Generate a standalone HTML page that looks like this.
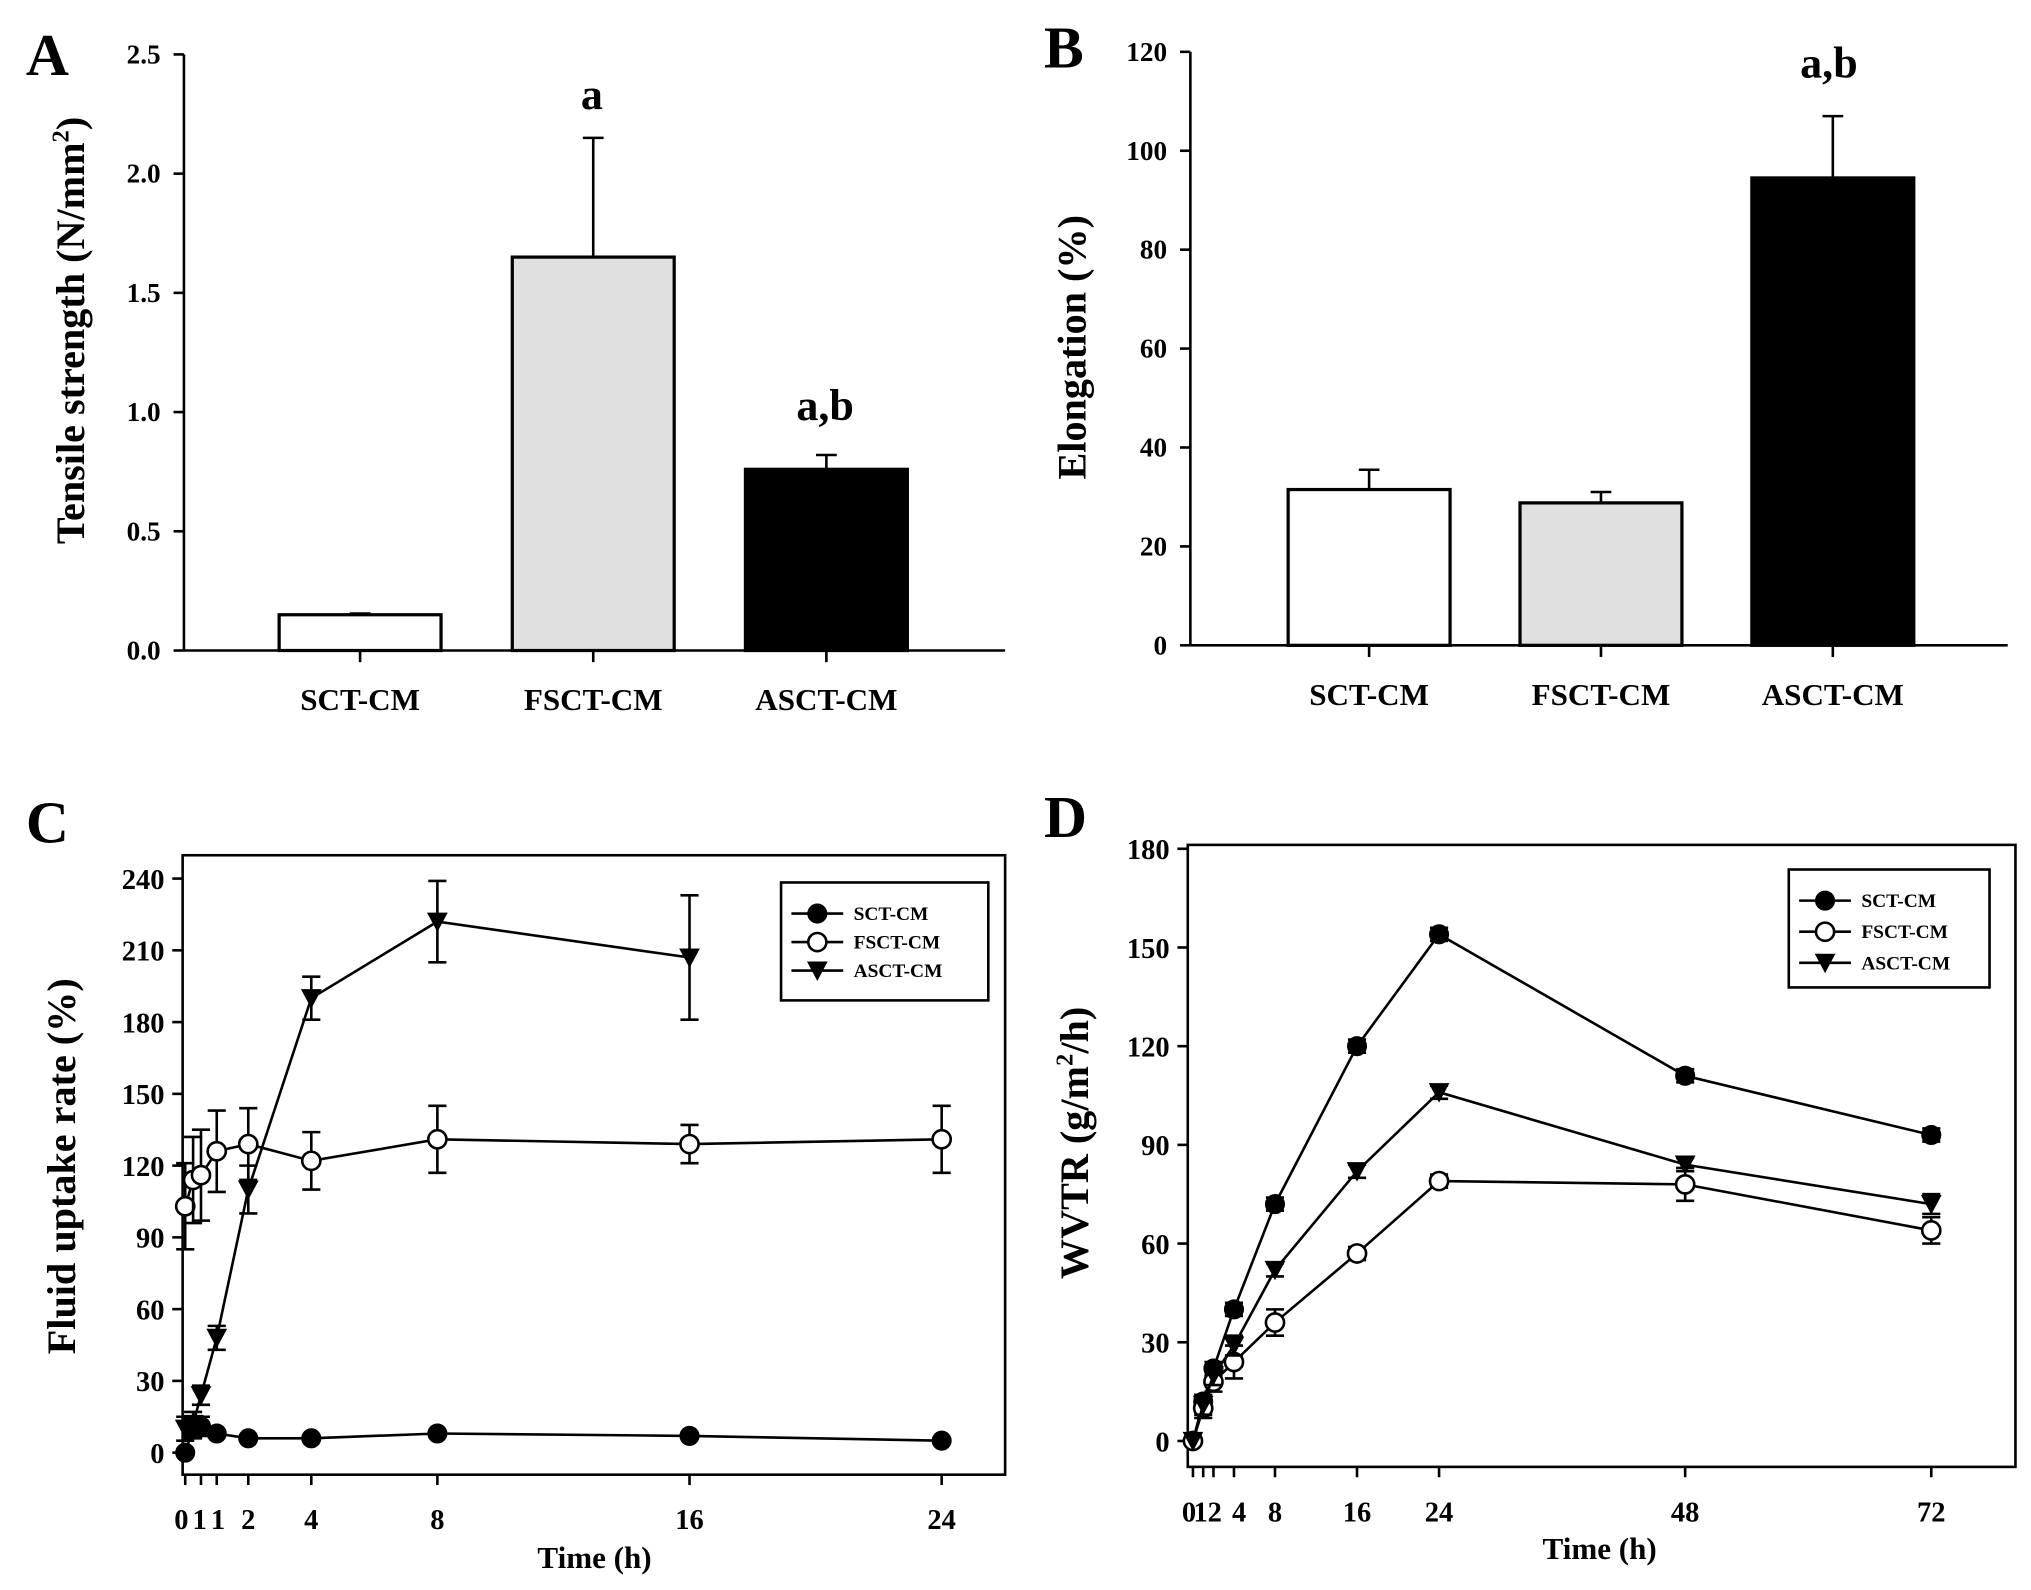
<!DOCTYPE html>
<html><head><meta charset="utf-8"><style>
html,body{margin:0;padding:0;background:#fff;}
svg{display:block;}
text{font-family:"Liberation Serif",serif;font-weight:bold;fill:#000;}
</style></head><body>
<svg id="fig" width="2031" height="1590" viewBox="0 0 1568 1227" preserveAspectRatio="none" xmlns="http://www.w3.org/2000/svg">
<g id="gA"></g>
<g id="gB"></g>
<g id="gC"></g>
<g id="gD"></g>
</svg>
<script>
// Panel A data
const catsA = ["SCT-CM","FSCT-CM","ASCT-CM"];
const valsA = [0.15,1.65,0.76];
const errA = [0.005,0.50,0.06];
const ticksA = [0,0.5,1.0,1.5,2.0,2.5];
const tickLabelsA = ["0.0","0.5","1.0","1.5","2.0","2.5"];
// Panel B data
const catsB = ["SCT-CM","FSCT-CM","ASCT-CM"];
const valsB = [31.5,28.8,94.5];
const errB = [4,2.2,12.5];
const ticksB = [0,20,40,60,80,100,120];
// Panel C data
const timesC = [0,0.25,0.5,1,2,4,8,16,24];
const sctC = [0,10,11,8,6,6,8,7,5];
const sctErrC = [0,4,4,1,1,1,1,1,1];
const fsctC = [103,114,116,126,129,122,131,129,131];
const fsctErrC = [18,18,19,17,15,12,14,8,14];
const timesAC = [0,0.25,0.5,1,2,4,8,16];
const asctC = [10,12,24,48,110,190,222,207];
const asctErrC = [5,5,4,5,10,9,17,26];
const ticksCx = [0,0.5,1,2,4,8,16,24];
const tickLabelsCx = ["0","1","1","2","4","8","16","24"];
const ticksCy = [0,30,60,90,120,150,180,210,240];
// Panel D data
const timesD = [0,1,2,4,8,16,24,48,72];
const sctD = [0,12,22,40,72,120,154,111,93];
const sctErrD = [0,2,2,2,2,2,2,2,2];
const fsctD = [0,10,18,24,36,57,79,78,64];
const fsctErrD = [0,3,3,5,4,2,2,5,4];
const asctD = [0,11,20,29,52,82,106,84,72];
const asctErrD = [0,3,3,3,2,2,2,2,3];
const ticksDx = [0,1,2,4,8,16,24,48,72];
const tickLabelsDx = ["0","1","2","4","8","16","24","48","72"];
const ticksDy = [0,30,60,90,120,150,180];

const NS="http://www.w3.org/2000/svg";
function mk(parent,tag,attrs,txt){const e=document.createElementNS(NS,tag);for(const k in attrs)e.setAttribute(k,attrs[k]);if(txt!==undefined)e.textContent=txt;parent.appendChild(e);return e;}

function barPanel(g,o){
  const y=v=>o.y0-(v-o.ymin)/(o.ymax-o.ymin)*(o.y0-o.ytop);
  let ax=mk(g,'line',{x1:o.x0,y1:o.ytop,x2:o.x0,y2:o.y0,stroke:'#000','stroke-width':2});
  
  
  let bx=mk(g,'line',{x1:o.x0,y1:o.y0,x2:o.xend,y2:o.y0,stroke:'#000','stroke-width':2});
  
  
  o.ticks.forEach((t,i)=>{
    mk(g,'line',{x1:o.x0-8,y1:y(t),x2:o.x0,y2:y(t),stroke:'#000','stroke-width':2});
    let tl=mk(g,'text',{x:o.x0-18,y:y(t)+7,'text-anchor':'end','font-size':21},o.labels[i]);
    
    
  });
  const fills=['#fff','#e0e0e0','#000'];
  o.cats.forEach((c,i)=>{
    const cx=o.c0+i*o.step, w=125;
    const top=y(o.vals[i]), et=y(o.vals[i]+o.err[i]);
    let el=mk(g,'line',{x1:cx,y1:top,x2:cx,y2:et,stroke:'#000','stroke-width':2});
    
    
    mk(g,'line',{x1:cx-8,y1:et,x2:cx+8,y2:et,stroke:'#000','stroke-width':2});
    let r=mk(g,'rect',{x:cx-w/2,y:top,width:w,height:o.y0-top,fill:fills[i],stroke:'#000','stroke-width':2.5});
    
    
    mk(g,'line',{x1:cx,y1:o.y0,x2:cx,y2:o.y0+9,stroke:'#000','stroke-width':2});
    let cl=mk(g,'text',{x:cx,y:o.y0+46,'text-anchor':'middle','font-size':24},c);
    
    
  });
  let yt=mk(g,'text',{x:0,y:0,'text-anchor':'middle','font-size':31,transform:`translate(${o.titleX},${o.titleY}) rotate(-90)`});
  yt.innerHTML=o.title;
  
  
  let pl=mk(g,'text',{x:o.letterX,y:o.letterY,'font-size':46},o.letter);
  
  
  o.sig.forEach(s=>{let st=mk(g,'text',{x:s[0],y:s[1],'text-anchor':'middle','font-size':34},s[2]);
    
    });
}

barPanel(document.getElementById('gA'),{x0:142,xend:776,y0:502,ytop:42,ymin:0,ymax:2.5,ticks:ticksA,labels:tickLabelsA,
  cats:catsA,vals:valsA,err:errA,c0:278,step:180,title:'Tensile strength (N/mm<tspan font-size="19" dy="-12">2</tspan><tspan dy="12">)</tspan>',titleX:65,titleY:255,
  letter:'A',letterX:20,letterY:58,sig:[[457,84,'a'],[637,324,'a,b']]});
barPanel(document.getElementById('gB'),{x0:919,xend:1550,y0:498,ytop:40,ymin:0,ymax:120,ticks:ticksB,labels:ticksB.map(String),
  cats:catsB,vals:valsB,err:errB,c0:1057,step:179,title:'Elongation (%)',titleX:838,titleY:268,
  letter:'B',letterX:806,letterY:52,sig:[[1412,60,'a,b']]});

function linePanel(g,o){
  const X=t=>o.px0+(t-o.xmin)/(o.xmax-o.xmin)*(o.px1-o.px0);
  const Y=v=>o.py0-(v-o.ymin)/(o.ymax-o.ymin)*(o.py0-o.py1);
  let fr=mk(g,'rect',{x:o.bx,y:o.by,width:o.bw,height:o.bh,fill:'none',stroke:'#000','stroke-width':2});
  
  
  const bot=o.by+o.bh;
  o.xt.forEach((t,i)=>{
    mk(g,'line',{x1:X(t),y1:bot,x2:X(t),y2:bot+8,stroke:'#000','stroke-width':2});
    let l=mk(g,'text',{x:X(t)+(o.xoff?o.xoff[i]:0),y:bot+42,'text-anchor':'middle','font-size':22},o.xl[i]);
    
    
  });
  o.yt.forEach(t=>{
    mk(g,'line',{x1:o.bx-8,y1:Y(t),x2:o.bx,y2:Y(t),stroke:'#000','stroke-width':2});
    let l=mk(g,'text',{x:o.bx-14,y:Y(t)+8,'text-anchor':'end','font-size':22},String(t));
    
    
  });
  o.series.forEach(s=>{
    const pts=s.t.map((t,i)=>X(t)+','+Y(s.v[i])).join(' ');
    let pl=mk(g,'polyline',{points:pts,fill:'none',stroke:'#000','stroke-width':2});
    
    
    s.t.forEach((t,i)=>{
      const x=X(t),e=s.e[i];
      if(e>0){
        mk(g,'line',{x1:x,y1:Y(s.v[i]-e),x2:x,y2:Y(s.v[i]+e),stroke:'#000','stroke-width':2});
        mk(g,'line',{x1:x-7,y1:Y(s.v[i]+e),x2:x+7,y2:Y(s.v[i]+e),stroke:'#000','stroke-width':2});
        mk(g,'line',{x1:x-7,y1:Y(s.v[i]-e),x2:x+7,y2:Y(s.v[i]-e),stroke:'#000','stroke-width':2});
      }
      let m=marker(g,s.m,x,Y(s.v[i]));
      
      
    });
  });
  let lb=mk(g,'rect',{x:o.lx,y:o.ly,width:o.lw,height:o.lh,fill:'#fff',stroke:'#000','stroke-width':2});
  
  
  o.series.forEach((s,i)=>{
    const yy=o.ly+24+i*o.lstep;
    mk(g,'line',{x1:o.lx+8,y1:yy,x2:o.lx+48,y2:yy,stroke:'#000','stroke-width':2});
    marker(g,s.m,o.lx+28,yy);
    let t=mk(g,'text',{x:o.lx+56,y:yy+5,'font-size':15},s.name);
    
    
  });
  let xt=mk(g,'text',{x:o.xtx,y:o.xty,'text-anchor':'middle','font-size':24},'Time (h)');
  
  
  let yt=mk(g,'text',{x:0,y:0,'text-anchor':'middle','font-size':31,transform:`translate(${o.ytx},${o.yty}) rotate(-90)`});
  yt.innerHTML=o.ytitle;
  
  
  let pl=mk(g,'text',{x:o.letX,y:o.letY,'font-size':46},o.letter);
  
  
}
function marker(g,m,x,y){
  if(m==='c')return mk(g,'circle',{cx:x,cy:y,r:7,fill:'#000',stroke:'#000','stroke-width':1.5});
  if(m==='o')return mk(g,'circle',{cx:x,cy:y,r:7,fill:'#fff',stroke:'#000','stroke-width':2});
  return mk(g,'polygon',{points:`${x-8},${y-7} ${x+8},${y-7} ${x},${y+8}`,fill:'#000'});
}

linePanel(document.getElementById('gC'),{px0:143,px1:727,xmin:0,xmax:24,py0:1121,py1:678,ymin:0,ymax:240,
  bx:141,by:660,bw:635,bh:478,xt:ticksCx,xl:tickLabelsCx,xoff:[-3,-1,1,0,0,0,0,0],yt:ticksCy,
  series:[{name:'SCT-CM',m:'c',t:timesC,v:sctC,e:sctErrC},{name:'FSCT-CM',m:'o',t:timesC,v:fsctC,e:fsctErrC},{name:'ASCT-CM',m:'t',t:timesAC,v:asctC,e:asctErrC}],
  lx:603,ly:681,lw:160,lh:91,lstep:22,xtx:459,xty:1210,ytx:58,yty:900,ytitle:'Fluid uptake rate (%)',letter:'C',letX:20,letY:650});
linePanel(document.getElementById('gD'),{px0:921,px1:1491,xmin:0,xmax:72,py0:1112,py1:655,ymin:0,ymax:180,
  bx:917,by:652,bw:639,bh:480,xt:ticksDx,xl:tickLabelsDx,xoff:[-3,-2,1,4,0,0,0,0,0],yt:ticksDy,
  series:[{name:'SCT-CM',m:'c',t:timesD,v:sctD,e:sctErrD},{name:'FSCT-CM',m:'o',t:timesD,v:fsctD,e:fsctErrD},{name:'ASCT-CM',m:'t',t:timesD,v:asctD,e:asctErrD}],
  lx:1381,ly:671,lw:155,lh:91,lstep:24,xtx:1235,xty:1203,ytx:840,yty:882,ytitle:'WVTR (g/m<tspan font-size="19" dy="-12">2</tspan><tspan dy="12">/h)</tspan>',letter:'D',letX:806,letY:646});
</script>
</body></html>
